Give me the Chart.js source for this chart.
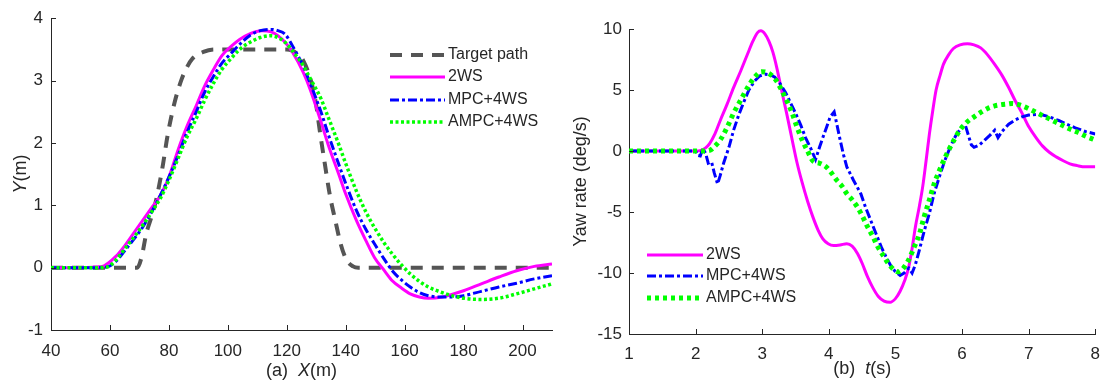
<!DOCTYPE html>
<html>
<head>
<meta charset="utf-8">
<script src="https://cdn.jsdelivr.net/npm/chart.js@4/dist/chart.umd.min.js"></script>
<style>
html,body{margin:0;padding:0;background:#fff;width:1110px;height:385px;overflow:hidden}
canvas{position:absolute;top:0}
#pathChart{left:0}
#yawChart{left:560px}
</style>
</head>
<body>
<canvas id="pathChart" width="560" height="385"></canvas>
<canvas id="yawChart" width="550" height="385"></canvas>
<script>
// ---------- (a) lateral position Y against longitudinal position X ----------
const xTicksA = [40, 60, 80, 100, 120, 140, 160, 180, 200];
const yTicksA = [-1, 0, 1, 2, 3, 4];

const targetX = [40, 69.3, 70.8, 72.3, 74, 75.6, 77.8, 79.6, 82, 84.4, 86.2, 88, 91.7, 95.3, 110, 120, 121.9, 123.8, 125.6, 128, 129.8, 131.4, 132.8, 134.6, 136.5, 138.3, 140.1, 142.5, 144.3, 210];
const targetY = [0, 0, 0.18, 0.54, 0.8, 1.07, 1.6, 2.13, 2.66, 3.03, 3.22, 3.35, 3.46, 3.5, 3.5, 3.5, 3.48, 3.42, 3.32, 3.03, 2.66, 2.13, 1.7, 1.17, 0.75, 0.38, 0.14, 0.02, 0, 0];

const ws2X = [40, 50, 55, 58, 62, 65, 68, 71, 74, 77, 80, 83.2, 86, 89.3, 92, 95.3, 98, 101.4, 104, 107.4, 111.6, 114.7, 117, 119.5, 122, 125.6, 128, 131.6, 134, 137.7, 140, 143.7, 147, 149.8, 153, 155.8, 159, 161.9, 165, 168, 172.8, 176, 180, 186, 192, 198, 204, 210];
const ws2Y = [0, 0, 0.01, 0.03, 0.18, 0.35, 0.55, 0.75, 0.95, 1.15, 1.45, 1.9, 2.25, 2.6, 2.9, 3.19, 3.4, 3.56, 3.66, 3.75, 3.8, 3.78, 3.72, 3.61, 3.45, 3.13, 2.85, 2.34, 1.98, 1.49, 1.18, 0.75, 0.42, 0.16, -0.04, -0.21, -0.33, -0.42, -0.47, -0.49, -0.47, -0.43, -0.37, -0.26, -0.15, -0.05, 0.02, 0.06];

const mpcX = [40, 55, 59, 62, 65, 68, 71, 74, 77.2, 80, 83.2, 86, 89.3, 92, 95.3, 98, 101.4, 104, 107.4, 111, 114.7, 117, 119.5, 122, 125.6, 128, 131.6, 134, 137.7, 140, 143.7, 147, 149.8, 153, 155.8, 159, 161.9, 165, 168, 172, 176, 180, 186, 192, 198, 204, 210];
const mpcY = [0, 0, 0.01, 0.1, 0.27, 0.45, 0.64, 0.88, 1.17, 1.45, 1.81, 2.15, 2.5, 2.8, 3.08, 3.28, 3.45, 3.58, 3.72, 3.8, 3.82, 3.8, 3.74, 3.55, 3.23, 2.95, 2.5, 2.15, 1.65, 1.35, 0.91, 0.6, 0.38, 0.14, -0.05, -0.2, -0.31, -0.4, -0.45, -0.47, -0.47, -0.45, -0.38, -0.31, -0.25, -0.18, -0.13];

const ampcX = [40, 55, 59, 62, 65, 68, 71, 74, 77.2, 80, 83.2, 86, 89.3, 92, 95.3, 98, 101.4, 104, 107.4, 111, 114.7, 117, 119.5, 122, 125.6, 128, 131.6, 134, 137.7, 140, 143.7, 147, 149.8, 153, 155.8, 159, 161.9, 165, 168, 171, 174, 177, 180, 186, 192, 198, 204, 210];
const ampcY = [0, 0, 0.01, 0.12, 0.3, 0.48, 0.67, 0.88, 1.12, 1.4, 1.76, 2.08, 2.39, 2.67, 2.97, 3.18, 3.37, 3.5, 3.61, 3.69, 3.72, 3.69, 3.61, 3.47, 3.24, 3.03, 2.71, 2.42, 1.97, 1.67, 1.22, 0.88, 0.64, 0.4, 0.22, 0.04, -0.1, -0.22, -0.31, -0.37, -0.42, -0.46, -0.49, -0.51, -0.49, -0.42, -0.34, -0.26];

// ---------- (b) yaw rate against time ----------
const tTicksB = [1, 2, 3, 4, 5, 6, 7, 8];
const yawTicksB = [-15, -10, -5, 0, 5, 10];

const yaw2wsT = [1, 2.0, 2.08, 2.15, 2.21, 2.29, 2.37, 2.47, 2.57, 2.68, 2.78, 2.86, 2.93, 2.98, 3.04, 3.1, 3.16, 3.22, 3.29, 3.37, 3.45, 3.52, 3.6, 3.68, 3.76, 3.84, 3.91, 3.99, 4.07, 4.17, 4.27, 4.35, 4.43, 4.5, 4.58, 4.66, 4.74, 4.83, 4.92, 5.0, 5.07, 5.14, 5.2, 5.25, 5.3, 5.36, 5.41, 5.46, 5.51, 5.56, 5.61, 5.67, 5.72, 5.8, 5.87, 5.97, 6.08, 6.18, 6.28, 6.38, 6.49, 6.6, 6.7, 6.8, 6.9, 7.0, 7.11, 7.21, 7.31, 7.42, 7.52, 7.62, 7.73, 7.85, 8.0];
const yaw2wsV = [0, 0, 0.05, 0.25, 0.6, 1.4, 2.5, 3.8, 5.2, 6.6, 7.95, 9.0, 9.7, 9.85, 9.6, 9.0, 8.1, 6.8, 5.0, 3.0, 0.9, -0.9, -2.6, -4.1, -5.4, -6.5, -7.2, -7.6, -7.75, -7.7, -7.6, -7.8, -8.4, -9.2, -10.3, -11.2, -11.9, -12.3, -12.4, -12.1, -11.5, -10.6, -9.5, -8.0, -6.2, -4.5, -2.9, -0.8, 1.4, 3.3, 5.0, 6.2, 7.1, 7.9, 8.4, 8.7, 8.8, 8.7, 8.45, 7.9, 7.1, 6.2, 5.2, 4.1, 3.1, 2.0, 1.1, 0.4, -0.1, -0.5, -0.8, -1.05, -1.2, -1.3, -1.3];

const yawMpcT = [1, 2.0, 2.03, 2.07, 2.11, 2.15, 2.19, 2.24, 2.28, 2.33, 2.37, 2.42, 2.5, 2.57, 2.65, 2.73, 2.8, 2.88, 2.96, 3.04, 3.12, 3.19, 3.27, 3.35, 3.42, 3.5, 3.58, 3.65, 3.73, 3.8, 3.86, 3.91, 3.97, 4.02, 4.08, 4.12, 4.17, 4.22, 4.27, 4.37, 4.48, 4.55, 4.63, 4.71, 4.79, 4.87, 4.94, 5.0, 5.07, 5.13, 5.2, 5.25, 5.3, 5.36, 5.43, 5.51, 5.58, 5.66, 5.74, 5.82, 5.9, 6.0, 6.05, 6.1, 6.14, 6.18, 6.26, 6.34, 6.42, 6.49, 6.54, 6.6, 6.7, 6.8, 6.9, 7.0, 7.11, 7.21, 7.31, 7.45, 7.57, 7.7, 7.85, 8.0];
const yawMpcV = [0, 0, -0.35, -0.4, 0.2, -0.2, -1.0, -0.9, -1.8, -2.7, -2.0, -1.0, 0.3, 1.7, 3.0, 4.1, 5.0, 5.7, 6.15, 6.3, 6.25, 6.05, 5.5, 4.8, 4.0, 3.1, 2.1, 1.1, 0.2, -0.7, 0.3, 1.1, 2.0, 2.8, 3.2, 2.2, 0.9, -0.3, -1.3, -2.4, -3.5, -4.6, -5.7, -6.8, -7.9, -8.8, -9.5, -9.9, -10.2, -10.0, -9.6, -10.0, -9.3, -8.1, -6.6, -5.1, -3.5, -2.1, -0.8, 0.3, 1.2, 2.0, 2.1, 1.2, 0.5, 0.3, 0.5, 0.9, 1.3, 1.7, 1.1, 1.6, 2.2, 2.55, 2.8, 2.95, 3.0, 2.95, 2.8, 2.5, 2.2, 1.9, 1.6, 1.4];

const yawAmpcT = [1, 2.1, 2.21, 2.29, 2.37, 2.47, 2.57, 2.68, 2.78, 2.88, 2.99, 3.06, 3.14, 3.22, 3.29, 3.37, 3.45, 3.52, 3.6, 3.68, 3.76, 3.86, 3.96, 4.04, 4.12, 4.2, 4.27, 4.35, 4.43, 4.5, 4.58, 4.66, 4.74, 4.82, 4.89, 4.97, 5.05, 5.12, 5.2, 5.28, 5.36, 5.43, 5.51, 5.58, 5.66, 5.74, 5.82, 5.9, 5.98, 6.08, 6.18, 6.29, 6.39, 6.49, 6.59, 6.67, 6.75, 6.85, 6.95, 7.08, 7.21, 7.34, 7.47, 7.6, 7.73, 7.86, 8.0];
const yawAmpcV = [0, 0, 0.05, 0.4, 0.9, 1.9, 3.1, 4.2, 5.2, 6.0, 6.5, 6.45, 6.2, 5.7, 5.0, 4.1, 3.1, 2.0, 0.9, 0.0, -0.8, -1.0, -1.3, -1.8, -2.4, -2.9, -3.5, -4.0, -4.6, -5.3, -6.2, -7.0, -7.9, -8.6, -9.2, -9.7, -9.9, -9.6, -8.9, -7.9, -6.8, -5.4, -4.0, -2.7, -1.6, -0.6, 0.3, 1.1, 1.8, 2.4, 2.8, 3.2, 3.5, 3.7, 3.8, 3.85, 3.9, 3.8, 3.6, 3.25, 2.9, 2.55, 2.2, 1.85, 1.55, 1.2, 0.9];

const seriesNames = ['Target path', '2WS', 'MPC+4WS', 'AMPC+4WS'];

const INK = '#262626';
const FONT = "'Liberation Sans', Arial, sans-serif";

const toPoints = (xs, ys) => xs.map((v, i) => ({ x: v, y: ys[i] }));

// Tick marks pointing into the plot, on the bottom and left axes only
const inwardTicks = {
  id: 'inwardTicks',
  afterDraw(chart, args, opts) {
    const { ctx, chartArea: a, scales } = chart;
    ctx.save();
    ctx.strokeStyle = INK;
    ctx.lineWidth = 1;
    ctx.beginPath();
    scales.x.ticks.forEach(t => {
      const px = Math.round(scales.x.getPixelForValue(t.value)) + 0.5;
      ctx.moveTo(px, a.bottom);
      ctx.lineTo(px, a.bottom - opts.len);
    });
    scales.y.ticks.forEach(t => {
      const py = Math.round(scales.y.getPixelForValue(t.value)) + 0.5;
      ctx.moveTo(a.left, py);
      ctx.lineTo(a.left + opts.len, py);
    });
    ctx.stroke();
    ctx.restore();
  }
};

// Axis titles made of plain and italic runs
function drawRuns(ctx, runs, size) {
  let total = 0;
  runs.forEach(r => {
    ctx.font = (r.italic ? 'italic ' : '') + size + 'px ' + FONT;
    r.w = ctx.measureText(r.text).width;
    total += r.w;
  });
  let x = -total / 2;
  runs.forEach(r => {
    ctx.font = (r.italic ? 'italic ' : '') + size + 'px ' + FONT;
    ctx.fillText(r.text, x, 0);
    x += r.w;
  });
}
const axisTitles = {
  id: 'axisTitles',
  afterDraw(chart, args, opts) {
    const { ctx, chartArea: a } = chart;
    ctx.save();
    ctx.fillStyle = INK;
    ctx.textAlign = 'left';
    ctx.textBaseline = 'middle';
    ctx.save();
    ctx.translate((a.left + a.right) / 2, opts.xTitleY);
    drawRuns(ctx, opts.xTitle, opts.size);
    ctx.restore();
    ctx.save();
    ctx.translate(opts.yTitleX, (a.top + a.bottom) / 2);
    ctx.rotate(-Math.PI / 2);
    drawRuns(ctx, opts.yTitle, opts.size);
    ctx.restore();
    ctx.restore();
  }
};

// Frameless legend placed inside the plot
const insideLegend = {
  id: 'insideLegend',
  afterDraw(chart, args, opts) {
    const { ctx } = chart;
    ctx.save();
    ctx.font = opts.size + 'px ' + FONT;
    ctx.textBaseline = 'middle';
    ctx.textAlign = 'left';
    chart.data.datasets.forEach((ds, i) => {
      const y = opts.rowY[i];
      ctx.beginPath();
      ctx.strokeStyle = ds.borderColor;
      ctx.lineWidth = ds.borderWidth;
      ctx.lineCap = 'butt';
      ctx.setLineDash(ds.borderDash || []);
      ctx.moveTo(opts.lineX0, y);
      ctx.lineTo(opts.lineX1, y);
      ctx.stroke();
      ctx.setLineDash([]);
      ctx.fillStyle = INK;
      ctx.fillText(ds.label, opts.textX, y);
    });
    ctx.restore();
  }
};

function axisOptions(min, max, step, tickVals, padding, size) {
  return {
    type: 'linear', min, max,
    grid: { display: true, drawOnChartArea: false, drawTicks: false },
    border: { display: true, color: INK, width: 1 },
    ticks: {
      stepSize: step, includeBounds: false, padding,
      color: INK, font: { family: FONT, size },
      autoSkip: false, maxRotation: 0,
      callback: v => (tickVals.includes(v) ? String(v) : null)
    }
  };
}

const line = (label, pts, color, width, dash, tension, order) => ({
  label, data: pts, borderColor: color, backgroundColor: color,
  borderWidth: width, borderDash: dash, borderCapStyle: 'butt',
  pointRadius: 0, fill: false, tension,
  cubicInterpolationMode: tension ? 'monotone' : 'default', order
});

// ---------- chart (a) ----------
const xA = axisOptions(40, 210, 20, xTicksA, 11, 17);
xA.afterFit = s => { s.height = 55; };
const yA = axisOptions(-1, 4, 1, yTicksA, 8, 17);
yA.afterFit = s => { s.width = 51; };

new Chart(document.getElementById('pathChart'), {
  type: 'line',
  data: {
    datasets: [
      line(seriesNames[0], toPoints(targetX, targetY), '#555555', 4, [12, 9], 0.4, 4),
      line(seriesNames[1], toPoints(ws2X, ws2Y), '#ff00ff', 3, [], 0.4, 3),
      line(seriesNames[2], toPoints(mpcX, mpcY), '#0000ff', 3, [9, 3, 3, 3], 0.4, 2),
      line(seriesNames[3], toPoints(ampcX, ampcY), '#00ff00', 3.5, [3, 2.5], 0.4, 1)
    ]
  },
  options: {
    responsive: false, animation: false, devicePixelRatio: 1,
    parsing: true,
    layout: { padding: { left: 0, right: 8, top: 17, bottom: 0 } },
    scales: { x: xA, y: yA },
    plugins: {
      legend: { display: false }, tooltip: { enabled: false },
      inwardTicks: { len: 5 },
      axisTitles: {
        size: 18, xTitleY: 371, yTitleX: 21,
        xTitle: [{ text: '(a)  ' }, { text: 'X', italic: true }, { text: '(m)' }],
        yTitle: [{ text: 'Y', italic: true }, { text: '(m)' }]
      },
      insideLegend: { size: 16, lineX0: 390, lineX1: 445, textX: 448, rowY: [55, 77, 100, 122] }
    }
  },
  plugins: [inwardTicks, axisTitles, insideLegend]
});

// ---------- chart (b) ----------
const xB = axisOptions(1, 8, 1, tTicksB, 10, 17);
xB.afterFit = s => { s.height = 51; };
const yB = axisOptions(-15, 10, 5, yawTicksB, 7, 17);
yB.afterFit = s => { s.width = 69; };

const yawSets = [
  line(seriesNames[1], toPoints(yaw2wsT, yaw2wsV), '#ff00ff', 3, [], 0.4, 3),
  line(seriesNames[2], toPoints(yawMpcT, yawMpcV), '#0000ff', 3, [9, 3, 3, 3], 0, 2),
  line(seriesNames[3], toPoints(yawAmpcT, yawAmpcV), '#00ff00', 5, [4, 4], 0.4, 1)
];

new Chart(document.getElementById('yawChart'), {
  type: 'line',
  data: { datasets: yawSets },
  options: {
    responsive: false, animation: false, devicePixelRatio: 1,
    layout: { padding: { left: 0, right: 6, top: 29, bottom: 0 } },
    scales: { x: xB, y: yB },
    plugins: {
      legend: { display: false }, tooltip: { enabled: false },
      inwardTicks: { len: 5 },
      axisTitles: {
        size: 18, xTitleY: 369, yTitleX: 21,
        xTitle: [{ text: '(b)  ' }, { text: 't', italic: true }, { text: '(s)' }],
        yTitle: [{ text: 'Yaw rate (deg/s)' }]
      },
      insideLegend: { size: 16, lineX0: 87, lineX1: 143, textX: 146, rowY: [255, 276, 298] }
    }
  },
  plugins: [inwardTicks, axisTitles, insideLegend]
});
</script>
</body>
</html>
